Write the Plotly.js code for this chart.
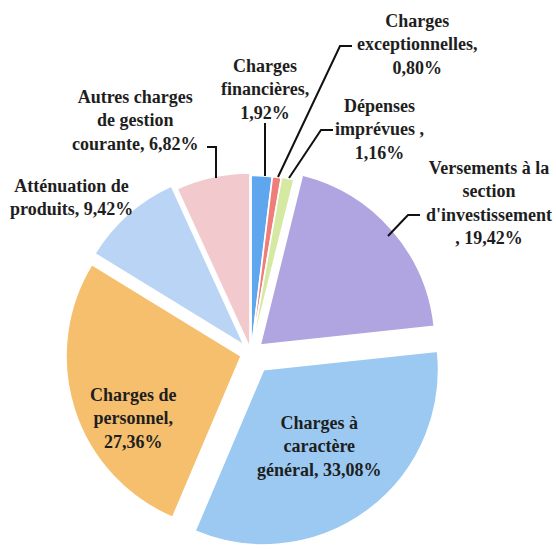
<!DOCTYPE html>
<html>
<head>
<meta charset="utf-8">
<script src="https://cdn.plot.ly/plotly-3.0.1.min.js"></script>
<style>html,body{margin:0;padding:0;background:#fff;}#chart{width:556px;height:549px;}</style>
</head>
<body>
<div id="chart"></div>
<script>
// ---- data ----
const categories = [
  "Charges financières",
  "Charges exceptionnelles",
  "Dépenses imprévues",
  "Versements à la section d'investissement",
  "Charges à caractère général",
  "Charges de personnel",
  "Atténuation de produits",
  "Autres charges de gestion courante"
];
const values = [1.92, 0.80, 1.16, 19.42, 33.08, 27.36, 9.42, 6.82];
// label text as laid out in the chart (line breaks), followed by the value
const labelLines = [
  "Charges<br>financières,<br>",
  "Charges<br>exceptionnelles,<br>",
  "Dépenses<br>imprévues ,<br>",
  "Versements à la<br>section<br>d'investissement<br>, ",
  "Charges à<br>caractère<br>général, ",
  "Charges de<br>personnel,<br>",
  "Atténuation de<br>produits, ",
  "Autres charges<br>de gestion<br>courante, "
];

// ---- styles ----
const colors = ["#5ea6ee", "#ef7d79", "#d5e9a2", "#b0a5e0", "#9bc9f1", "#f5bf6e", "#b9d4f5", "#f2c9cd"];
const pulls  = [0.015, 0.015, 0.02, 0.07, 0.12, 0.06, 0.06, 0.03];
// label anchor positions in pixels (x, y of block centre)
const labelPos = [[265, 89], [417, 45], [379, 129], [489, 203], [319, 446], [133, 418], [71, 197], [135, 121]];
// leader line paths in pixels
const leaders = [
  [[265, 123], [265, 176]],
  [[352, 46], [340, 46], [278, 177]],
  [[333, 130], [321, 130], [289, 178]],
  [[420, 215], [408, 215], [388, 236]],
  null, null, null,
  [[207, 147], [216, 147], [216, 178]]
];

const W = 556, H = 549;
const px = x => x / W;
const py = y => 1 - y / H;
const fmt = v => v.toFixed(2).replace('.', ',') + '%';

const trace = {
  type: 'pie',
  labels: categories,
  values: values,
  sort: false,
  direction: 'clockwise',
  rotation: 0,
  pull: pulls,
  textinfo: 'none',
  hoverinfo: 'label+percent',
  marker: {colors: colors, line: {color: '#ffffff', width: 1.5}},
  domain: {x: [0.0989, 0.8040], y: [0, 0.714]},
  showlegend: false
};

const font = {family: 'Liberation Serif, serif', size: 18, color: '#1e1e1e', weight: 'bold'};
const annotations = categories.map((c, i) => ({
  xref: 'paper', yref: 'paper',
  x: px(labelPos[i][0]), y: py(labelPos[i][1]),
  xanchor: 'center', yanchor: 'middle', align: 'center',
  showarrow: false,
  text: labelLines[i] + fmt(values[i]),
  font: font
}));

const shapes = leaders.filter(l => l).map(pts => ({
  type: 'path', xref: 'paper', yref: 'paper',
  path: pts.map((p, j) => (j ? 'L' : 'M') + px(p[0]) + ',' + py(p[1])).join(' '),
  line: {color: '#111', width: 2}
}));

Plotly.newPlot('chart', [trace], {
  width: W, height: H,
  margin: {l: 0, r: 0, t: 0, b: 0},
  paper_bgcolor: '#ffffff',
  annotations: annotations,
  shapes: shapes
}, {displayModeBar: false, staticPlot: true});
</script>
</body>
</html>
